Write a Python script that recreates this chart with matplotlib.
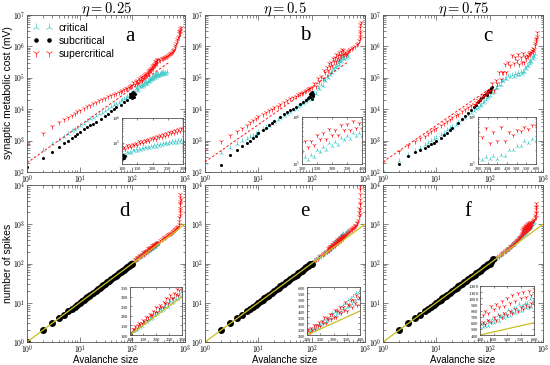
import numpy as np
import matplotlib.pyplot as plt
from matplotlib.ticker import FuncFormatter, MultipleLocator, NullFormatter, LogLocator

plt.rcParams.update({
    "mathtext.fontset": "cm",
    "font.family": ["Liberation Sans", "DejaVu Sans"],
    "axes.linewidth": 0.6,
    "axes.edgecolor": "#555555",
})

CYAN = "#3ec8c8"
RED = "#ff1010"
YELLOW = "#c8c020"

# ---------------------------------------------------------------------------
# Data: (avalanche size, value) pairs
# ---------------------------------------------------------------------------

# eta = 0.25, synaptic metabolic cost
a_crit = [(1, 250), (2, 520), (3, 800), (4, 1080), (5, 1350), (6, 1650), (7, 1950), (8, 2250), (9, 2600),
          (10, 2900), (12, 3500), (14, 4100), (16, 4700), (18, 5300), (20, 5900), (23, 6800), (26, 7700),
          (30, 8900), (35, 10300), (40, 11800), (45, 13300), (50, 14800), (55, 16300), (60, 17800),
          (65, 19300), (70, 20800), (75, 22500), (80, 24200), (85, 26000), (90, 27800), (95, 29800),
          (100, 32000), (105, 35500), (110, 33600), (115, 42900), (120, 39400), (125, 46600), (130, 41800),
          (135, 52900), (140, 49400), (145, 58300), (150, 51200), (155, 59800), (160, 53100), (165, 65900),
          (170, 59800), (175, 72800), (180, 62300), (185, 72400), (190, 63900), (195, 80300), (200, 71200),
          (205, 82900), (210, 72000), (215, 90700), (220, 79900), (225, 92700), (230, 82800), (235, 103600),
          (240, 90200), (245, 105300), (250, 90000), (255, 112700), (260, 97600), (265, 123600),
          (270, 101200), (275, 121500), (280, 103500), (285, 135100), (290, 114000), (295, 134700),
          (300, 115000), (310, 128000), (320, 118000), (330, 135000), (340, 122000), (350, 138000),
          (360, 125000), (370, 142000), (380, 130000), (390, 150000), (400, 135000), (420, 145000),
          (440, 128000), (460, 150000)]
a_sub = [(1, 145), (2, 280), (3, 430), (4, 620), (5, 830), (6, 1000), (7, 1200), (8, 1400), (9, 1650),
         (10, 1900), (12, 2300), (14, 2700), (16, 3100), (18, 3500), (20, 4000), (25, 5000), (30, 6000),
         (35, 7200), (40, 8500), (45, 10000), (50, 11500), (60, 14000), (70, 17000), (80, 20000),
         (90, 24000), (100, 28000), (92, 30000), (95, 26000), (98, 33000), (100, 23000), (102, 35000),
         (104, 27000), (106, 32000), (108, 25000), (110, 30000)]
a_sup = [(1, 800), (2, 1800), (3, 2900), (4, 3900), (5, 4800), (6, 5700), (7, 6500), (8, 7600), (9, 8500),
         (10, 9500), (12, 11000), (14, 12500), (16, 14000), (18, 15500), (20, 17000), (23, 19000),
         (26, 21000), (30, 23000), (35, 26000), (40, 29000), (45, 31500), (50, 34000), (55, 36500),
         (60, 39000), (65, 41500), (70, 44000), (75, 46500), (80, 49000), (85, 51500), (90, 54000),
         (95, 57000), (100, 60000), (105, 71500), (110, 61200), (115, 81800), (120, 69200), (125, 84000),
         (130, 71600), (135, 95300), (140, 84600), (145, 102400), (150, 87700), (155, 117200),
         (160, 98100), (165, 120400), (170, 102600), (175, 136600), (180, 121200), (185, 146900),
         (190, 125600), (195, 167900), (200, 140500), (205, 172500), (210, 147000), (215, 195800),
         (220, 173700), (225, 210300), (230, 180000), (235, 240600), (240, 201300), (245, 247200),
         (250, 210700), (255, 280400), (260, 248800), (265, 301400), (270, 257900), (275, 344800),
         (280, 288500), (285, 354200), (290, 301900), (295, 402000), (300, 356600), (320, 400000),
         (340, 380000), (360, 430000), (380, 420000), (400, 470000), (420, 450000), (440, 510000),
         (460, 490000), (480, 540000), (500, 580000), (520, 600000), (540, 630000), (560, 660000),
         (580, 700000), (600, 760000), (620, 850000), (640, 950000), (660, 1100000), (680, 1300000),
         (700, 1500000), (720, 1750000), (740, 2000000), (760, 2600000), (770, 2200000), (780, 3000000),
         (790, 2600000), (800, 3300000), (810, 3800000), (820, 3000000), (830, 4200000)]
a_fit = [(1, 195), (510, 320000)]

# eta = 0.5, synaptic metabolic cost
b_crit = [(1, 200), (2, 400), (3, 600), (4, 780), (5, 950), (6, 1100), (7, 1280), (8, 1450), (9, 1650),
          (10, 1900), (12, 2300), (14, 2650), (16, 3000), (18, 3400), (20, 3900), (23, 4500), (26, 5100),
          (30, 6000), (35, 7100), (40, 8200), (45, 9300), (50, 10500), (55, 11700), (60, 13000),
          (65, 14200), (70, 15500), (75, 16800), (80, 18000), (85, 19500), (90, 21000), (95, 23000),
          (100, 25000), (110, 31900), (120, 30600), (130, 46000), (140, 43700), (150, 57800), (160, 56300),
          (170, 82900), (180, 80800), (190, 105600), (200, 97200), (210, 138000), (220, 123700),
          (230, 153300), (240, 140800), (250, 196000), (260, 180500), (270, 225500), (280, 199800),
          (290, 276000), (300, 239900), (310, 289800), (320, 259600), (330, 352800), (340, 318300),
          (350, 390500), (360, 337500), (370, 454200), (380, 386000), (390, 456800), (400, 400400),
          (420, 480000), (440, 430000), (460, 520000), (480, 460000)]
b_sub = [(2, 170), (3, 350), (4, 500), (5, 680), (6, 840), (7, 1000), (8, 1200), (9, 1450), (10, 1700),
         (12, 2100), (14, 2600), (16, 3100), (18, 3700), (20, 4300), (25, 5500), (30, 6800), (35, 8000),
         (40, 9300), (45, 10500), (50, 12000), (60, 14500), (70, 17000), (80, 20000), (90, 24000),
         (100, 28000), (85, 22000), (92, 30000), (95, 24000), (98, 33000), (100, 21000), (102, 36000),
         (104, 26000), (106, 30000)]
b_sup = [(1, 500), (2, 1000), (3, 1500), (4, 2000), (5, 2600), (6, 3200), (7, 3800), (8, 4500), (9, 5200),
         (10, 6000), (12, 7000), (14, 8000), (16, 9200), (18, 10300), (20, 11500), (23, 13000),
         (26, 14500), (30, 16500), (35, 19000), (40, 22000), (45, 24500), (50, 27000), (55, 29500),
         (60, 32000), (65, 34000), (70, 36000), (75, 38500), (80, 41000), (85, 43500), (90, 46000),
         (95, 48000), (100, 50000), (110, 67200), (120, 55300), (130, 98800), (140, 81000), (150, 115500),
         (160, 97600), (170, 175000), (180, 152000), (190, 222000), (200, 178500), (210, 305500),
         (220, 234000), (230, 313500), (240, 248000), (250, 418800), (260, 342000), (270, 462000),
         (280, 348500), (290, 565500), (300, 414000), (310, 533500), (320, 408000), (330, 668800),
         (340, 532000), (350, 702000), (360, 518500), (370, 825500), (380, 594000), (390, 753500),
         (400, 568000), (420, 650000), (440, 560000), (460, 620000), (480, 700000), (500, 760000),
         (530, 820000), (560, 900000), (600, 950000), (650, 1050000), (700, 1150000), (740, 1300000),
         (770, 1600000), (790, 2200000), (800, 3000000), (810, 4000000), (820, 5000000), (830, 6000000),
         (800, 1800000), (815, 2600000)]
b_fit = [(1, 210), (480, 320000)]

# eta = 0.75, synaptic metabolic cost
c_crit = [(1, 115), (2, 230), (3, 350), (4, 470), (5, 590), (6, 710), (7, 830), (8, 950), (9, 1100),
          (10, 1250), (12, 1550), (14, 1800), (16, 2100), (18, 2450), (20, 2800), (23, 3200), (26, 3700),
          (30, 4500), (35, 5400), (40, 6500), (45, 7600), (50, 8700), (55, 9800), (60, 11000),
          (65, 12500), (70, 14000), (75, 15700), (80, 17500), (85, 19500), (90, 22000), (95, 24500),
          (100, 27000), (110, 33900), (120, 35700), (130, 48400), (140, 46000), (150, 59300), (160, 57600),
          (170, 77800), (180, 76800), (190, 93300), (200, 89300), (220, 115500), (240, 103000),
          (260, 122700), (280, 109800), (300, 136100), (320, 123800), (340, 138900), (360, 125000),
          (380, 149600), (400, 128800), (420, 156000), (440, 148500), (460, 199800), (480, 196800),
          (500, 243800), (520, 239700), (540, 308000), (560, 280600), (580, 343200), (600, 324000),
          (620, 421200), (640, 403200), (660, 477000), (680, 451200), (700, 561000)]
c_sub = [(2, 180), (3, 320), (4, 420), (5, 520), (6, 600), (7, 680), (8, 760), (9, 850), (10, 950),
         (12, 1200), (14, 1500), (16, 1800), (18, 2200), (20, 2600), (25, 3600), (30, 4800), (35, 6100),
         (40, 7600), (45, 9500), (50, 12000), (55, 14000), (60, 16500), (65, 19000), (70, 22000),
         (75, 25000), (80, 28000), (85, 31000), (90, 34000), (95, 38000), (100, 42000), (105, 47000),
         (110, 52000), (90, 28000), (100, 36000), (108, 44000)]
c_sup = [(1, 210), (2, 450), (3, 700), (4, 950), (5, 1200), (6, 1450), (7, 1700), (8, 2000), (9, 2300),
         (10, 2600), (12, 3200), (14, 3700), (16, 4300), (18, 4900), (20, 5600), (23, 6400), (26, 7200),
         (30, 8500), (35, 10000), (40, 11500), (45, 13200), (50, 15000), (55, 17000), (60, 19000),
         (65, 21500), (70, 24000), (75, 26500), (80, 29000), (85, 32000), (90, 35000), (95, 38500),
         (100, 42000), (110, 70000), (120, 40600), (130, 84000), (140, 68000), (150, 150000), (160, 90000),
         (170, 154000), (180, 148500), (190, 266000), (200, 154000), (220, 324000), (240, 256000),
         (260, 540000), (280, 300000), (300, 462000), (320, 378000), (340, 574000), (360, 280000),
         (380, 468000), (400, 312000), (420, 600000), (440, 315000), (460, 484000), (480, 423000),
         (500, 520000), (520, 500000), (540, 600000), (560, 560000), (580, 680000), (600, 640000),
         (620, 760000), (640, 740000), (660, 900000), (680, 850000), (700, 1100000), (720, 1300000),
         (740, 1700000), (760, 2200000), (780, 2800000), (730, 1500000), (750, 1900000)]
c_fit = [(1, 210), (110, 50000)]

# eta = 0.25, number of spikes
d_crit = [(1, 1), (2, 2), (3, 3), (4, 4), (5, 5), (6, 6), (8, 8), (10, 10), (13, 13), (16, 16), (20, 20),
          (25, 25), (30, 30), (40, 40), (50, 50), (60, 60), (70, 70), (80, 81), (90, 91), (100, 102),
          (105, 107), (110, 119), (115, 120), (120, 132), (125, 126), (130, 138), (135, 147), (140, 144),
          (145, 148), (150, 162), (155, 161), (160, 176), (165, 167), (170, 180), (175, 191), (180, 185),
          (185, 189), (190, 205), (195, 203), (200, 220), (205, 207), (210, 223), (215, 234), (220, 227),
          (225, 230), (230, 248), (235, 244), (240, 264), (245, 247), (250, 265), (255, 278), (260, 268),
          (265, 270), (270, 292), (275, 286), (280, 308), (285, 288), (290, 307), (295, 322), (300, 309)]
d_sub = [(1, 1), (2, 2), (3, 3), (4, 4), (5, 5), (6, 6), (7, 7), (8, 8), (9, 9), (10, 10), (11, 11),
         (12, 12), (13, 13), (14, 14), (15, 15), (16, 16), (18, 18), (20, 20), (22, 22), (24, 24),
         (26, 26), (28, 28), (30, 30), (33, 33), (36, 36), (40, 40), (44, 44), (48, 48), (52, 52),
         (56, 56), (60, 60), (65, 65), (70, 70), (75, 75), (80, 80), (85, 85), (90, 90), (95, 95),
         (100, 100)]
d_sup = [(1, 1), (2, 2), (3, 3), (4, 4), (5, 5), (6, 6), (8, 8), (10, 11), (13, 14), (16, 17), (20, 21),
         (25, 27), (30, 32), (40, 43), (50, 54), (60, 65), (70, 76), (80, 87), (90, 98), (100, 109),
         (105, 116), (110, 130), (115, 130), (120, 146), (125, 135), (130, 150), (135, 162), (140, 157),
         (145, 160), (150, 177), (155, 175), (160, 195), (165, 178), (170, 196), (175, 210), (180, 202),
         (185, 204), (190, 224), (195, 220), (200, 244), (205, 221), (210, 242), (215, 258), (220, 246),
         (225, 248), (230, 271), (235, 266), (240, 293), (245, 265), (250, 288), (255, 306), (260, 291),
         (265, 292), (270, 319), (275, 311), (280, 342), (285, 308), (290, 334), (295, 354), (300, 336),
         (320, 360), (340, 390), (360, 410), (380, 440), (400, 460), (420, 480), (440, 500), (460, 520),
         (480, 550), (500, 570), (520, 590), (540, 610), (560, 640), (580, 660), (600, 690), (620, 710),
         (640, 740), (660, 770), (680, 800), (700, 830), (720, 870), (740, 920), (760, 1000), (770, 1200),
         (780, 1500), (790, 2000), (800, 2600), (805, 3200), (810, 4000), (815, 5000), (820, 6000),
         (800, 1700), (810, 2300), (820, 3500), (830, 4500)]

# eta = 0.5, number of spikes
e_crit = [(1, 1), (2, 2), (3, 3), (5, 5), (8, 8), (10, 10), (15, 15), (20, 20), (30, 30), (40, 40),
          (50, 51), (60, 61), (70, 72), (80, 82), (90, 93), (100, 104), (110, 116), (120, 124), (130, 140),
          (140, 146), (150, 165), (160, 168), (170, 185), (180, 190), (190, 209), (200, 222), (205, 240),
          (210, 226), (215, 248), (220, 238), (225, 262), (230, 250), (235, 278), (240, 262), (245, 292),
          (250, 282), (255, 312), (260, 296), (265, 330), (270, 310), (275, 345), (280, 322), (285, 362),
          (290, 338), (295, 380), (300, 352), (305, 396), (310, 366), (315, 410), (320, 380), (325, 428),
          (330, 396), (335, 450), (340, 412), (345, 470), (350, 430), (355, 488), (360, 445), (365, 505),
          (370, 462), (375, 525), (380, 480), (385, 548), (390, 500), (395, 565), (400, 515), (420, 560),
          (440, 600), (460, 620), (480, 660)]
e_sub = [(2, 2), (3, 3), (4, 4), (5, 5), (6, 6), (7, 7), (8, 8), (9, 9), (10, 10), (11, 11), (12, 12),
         (13, 13), (14, 14), (15, 15), (16, 16), (18, 18), (20, 20), (22, 22), (24, 24), (26, 26),
         (28, 28), (30, 30), (33, 33), (36, 36), (40, 40), (44, 44), (48, 48), (52, 52), (56, 56),
         (60, 60), (65, 65), (70, 70), (75, 75), (80, 80), (85, 85), (90, 90), (95, 95), (100, 100)]
e_sup = [(1, 1), (2, 2), (3, 3), (5, 5), (8, 8), (10, 11), (15, 16), (20, 21), (30, 32), (40, 43),
         (50, 54), (60, 65), (70, 76), (80, 87), (90, 98), (100, 108), (110, 118), (120, 130), (130, 138),
         (140, 152), (150, 160), (160, 174), (170, 182), (180, 198), (190, 206), (200, 225), (205, 251),
         (210, 225), (215, 258), (220, 245), (225, 286), (230, 246), (235, 282), (240, 281), (245, 311),
         (250, 277), (255, 317), (260, 300), (265, 348), (270, 297), (275, 340), (280, 337), (285, 372),
         (290, 330), (295, 376), (300, 354), (305, 409), (310, 349), (315, 398), (320, 393), (325, 432),
         (330, 383), (335, 435), (340, 408), (345, 471), (350, 400), (355, 455), (360, 449), (365, 492),
         (370, 435), (375, 494), (380, 463), (385, 532), (390, 452), (395, 513), (400, 505), (420, 540),
         (440, 580), (460, 610), (480, 640), (500, 680), (520, 700), (540, 740), (560, 770), (580, 800),
         (600, 840), (620, 870), (640, 900), (660, 940), (680, 980), (700, 1050), (720, 1150),
         (740, 1300), (760, 1600), (770, 2000), (780, 2600), (790, 3500), (800, 4500), (810, 6000),
         (815, 8000), (820, 9500), (790, 1800), (800, 2400), (810, 3200)]

# eta = 0.75, number of spikes
f_crit = [(1, 1), (2, 2), (3, 3), (5, 5), (8, 8), (10, 10), (15, 15), (20, 20), (30, 30), (40, 40),
          (50, 50), (60, 60), (70, 70), (80, 80), (90, 90), (100, 100), (110, 112), (120, 124), (130, 132),
          (140, 146), (150, 155), (160, 168), (170, 178), (180, 192), (190, 200), (200, 216), (210, 226),
          (220, 240), (230, 250), (240, 266), (250, 275), (260, 292), (270, 302), (280, 320), (290, 330),
          (300, 348), (310, 360), (320, 378), (330, 392), (340, 410), (350, 425), (360, 445), (370, 462),
          (380, 482), (390, 500), (400, 530), (405, 573), (410, 523), (415, 578), (420, 555), (425, 629),
          (430, 551), (435, 616), (440, 614), (445, 662), (450, 603), (455, 665), (460, 636), (465, 720),
          (470, 630), (475, 701), (480, 698), (485, 751), (490, 683), (495, 751), (500, 718), (505, 811),
          (510, 708), (515, 787), (520, 782), (525, 840), (530, 763), (535, 838), (540, 799), (545, 901),
          (550, 786), (555, 873), (560, 866), (565, 929), (570, 843), (575, 924), (580, 881), (585, 992),
          (590, 864), (595, 958), (600, 950), (620, 1000), (640, 1050), (660, 1100), (680, 1150)]
f_sub = [(2, 2), (3, 3), (4, 4), (5, 5), (6, 6), (7, 7), (8, 8), (9, 9), (10, 10), (11, 11), (12, 12),
         (13, 13), (14, 14), (15, 15), (16, 16), (18, 18), (20, 20), (22, 22), (24, 24), (26, 26),
         (28, 28), (30, 30), (33, 33), (36, 36), (40, 40), (44, 44), (48, 48), (52, 52), (56, 56),
         (60, 60), (65, 65), (70, 70), (75, 75), (80, 80), (85, 85), (90, 90), (95, 95), (100, 100),
         (105, 112), (115, 130)]
f_sup = [(1, 1), (2, 2), (3, 3), (5, 5), (8, 8), (10, 11), (15, 16), (20, 21), (30, 32), (40, 43),
         (50, 54), (60, 65), (70, 76), (80, 87), (90, 98), (100, 108), (110, 115), (120, 128), (130, 135),
         (140, 150), (150, 158), (160, 172), (170, 180), (180, 196), (190, 205), (200, 222), (210, 230),
         (220, 246), (230, 255), (240, 272), (250, 282), (260, 300), (270, 310), (280, 330), (290, 340),
         (300, 360), (310, 372), (320, 392), (330, 405), (340, 425), (350, 440), (360, 462), (370, 478),
         (380, 500), (390, 520), (400, 560), (410, 610), (420, 580), (430, 650), (440, 620), (450, 690),
         (460, 650), (470, 720), (480, 700), (490, 760), (500, 730), (510, 790), (520, 760), (530, 830),
         (540, 800), (550, 860), (560, 830), (570, 890), (580, 860), (590, 920), (600, 900), (410, 720),
         (420, 800), (430, 760), (440, 870), (450, 820), (460, 900), (470, 850), (480, 950), (490, 880),
         (500, 1000), (510, 920), (520, 1050), (530, 960), (540, 1080), (550, 1000), (560, 1100),
         (570, 1020), (580, 1120), (590, 1050), (600, 1150), (620, 1150), (640, 1200), (660, 1300),
         (680, 1400), (700, 1500), (720, 1700), (730, 2000), (740, 2500), (745, 3000), (750, 3500),
         (730, 1500), (740, 1900), (750, 2800)]
spike_fit = [(1, 1), (1000, 1000)]

titles = [r"$\eta = 0.25$", r"$\eta = 0.5$", r"$\eta = 0.75$"]
letters = ["a", "b", "c", "d", "e", "f"]

# ---------------------------------------------------------------------------
# Layout helpers (pixel boxes of the 550x365 figure)
# ---------------------------------------------------------------------------

W, H = 550, 365


def box(x0, y0, x1, y1):
    return [x0 / W, 1 - y1 / H, (x1 - x0) / W, (y1 - y0) / H]


def xy(pairs):
    s, v = zip(*pairs)
    return list(s), list(v)


pow_fmt = FuncFormatter(lambda v, p: r"$10^{%d}$" % int(round(np.log10(v))))
int_fmt = FuncFormatter(lambda v, p: r"$%d$" % int(round(v)))


def style(ax, labelsize=5.5, major=3.5, minor=1.8, pad=1.2):
    ax.tick_params(which="both", direction="in", top=True, right=True,
                   width=0.5, color="#555555", labelsize=labelsize, pad=pad)
    ax.tick_params(which="major", length=major)
    ax.tick_params(which="minor", length=minor)


def draw(ax, crit, sub, sup, fit, top, inset=False):
    ms = 3.2 if inset else 4
    sub_ms = 2.2 if top else (3.5 if inset else 5)
    s, v = xy(crit)
    ax.plot(s, v, ls="none", marker="2", ms=ms, mew=0.5, color=CYAN, label="critical")
    if top:
        s, v = xy(sub)
        ax.plot(s, v, ls="none", marker="o", ms=sub_ms, mew=0, color="black", label="subcritical")
        s, v = xy(sup)
        ax.plot(s, v, ls="none", marker="1", ms=ms, mew=0.5, color=RED, label="supercritical")
    else:
        s, v = xy(sup)
        ax.plot(s, v, ls="none", marker="1", ms=ms, mew=0.5, color=RED)
        s, v = xy(sub)
        ax.plot(s, v, ls="none", marker="o", ms=sub_ms, mew=0, color="black")
    s, v = xy(fit)
    if top:
        if not inset:
            ax.plot(s, v, ls="--", lw=0.7, color=RED, dashes=(2.5, 2))
    else:
        ax.plot(s, v, ls="-", lw=0.9, color=YELLOW)


fig = plt.figure(figsize=(5.5, 3.65), dpi=100)

main_boxes = [box(27, 15, 185, 172), box(205, 15, 365, 172), box(383, 15, 543, 172),
              box(27, 185, 185, 342), box(205, 185, 365, 342), box(383, 185, 543, 342)]
inset_boxes = [box(122, 118, 183, 164), box(302, 117, 362, 164), box(478, 117, 536, 164),
               box(130, 287, 182, 335), box(307, 287, 360, 335), box(480, 286, 534, 335)]
letter_pos = [(0.65, 0.86), (0.625, 0.87), (0.656, 0.86), (0.62, 0.83), (0.625, 0.83), (0.53, 0.83)]
title_x = [106, 285, 463]

panels = [
    (a_crit, a_sub, a_sup, a_fit, True, (100, 300), (1.5e4, 1e6), 50),
    (b_crit, b_sub, b_sup, b_fit, True, (200, 400), (1e5, 1e6), 50),
    (c_crit, c_sub, c_sup, c_fit, True, (300, 600), (1e5, 1e6), 50),
    (d_crit, d_sub, d_sup, spike_fit, False, (100, 300), (100, 350), 50),
    (e_crit, e_sub, e_sup, spike_fit, False, (200, 400), (200, 600), 50),
    (f_crit, f_sub, f_sup, spike_fit, False, (400, 600), (400, 1200), 100),
]

for i, (crit, sub, sup, fit, top, ixl, iyl, ystep) in enumerate(panels):
    ax = fig.add_axes(main_boxes[i])
    draw(ax, crit, sub, sup, fit, top)
    ax.set_xscale("log")
    ax.set_yscale("log")
    ax.set_xlim(1, 1000)
    ax.set_ylim((100, 1e7) if top else (1, 1e4))
    ax.xaxis.set_major_formatter(pow_fmt)
    ax.yaxis.set_major_formatter(pow_fmt)
    style(ax)
    ax.text(*letter_pos[i], letters[i], transform=ax.transAxes, fontsize=15,
            family="Liberation Serif", ha="center", va="center")
    if top:
        fig.text(title_x[i] / W, 1 - 10 / H, titles[i], fontsize=10.5,
                 ha="center", va="center")
    if i == 0:
        ax.legend(loc="upper left", bbox_to_anchor=(0.0, 0.99), frameon=False, numpoints=2,
                  fontsize=7.5, markerscale=1.5, handlelength=1.8, handletextpad=0.6,
                  labelspacing=0.3, borderaxespad=0.2)

    ins = fig.add_axes(inset_boxes[i])
    ins.set_facecolor("white")
    draw(ins, crit, sub, sup, fit, top, inset=True)
    ins.set_xlim(*ixl)
    if top:
        ins.set_yscale("log")
        ins.yaxis.set_major_locator(LogLocator(base=10))
        ins.yaxis.set_major_formatter(pow_fmt)
        ins.yaxis.set_minor_formatter(NullFormatter())
    else:
        ins.yaxis.set_major_locator(MultipleLocator(ystep))
        ins.yaxis.set_major_formatter(int_fmt)
    ins.set_ylim(*iyl)
    ins.xaxis.set_major_locator(MultipleLocator(50))
    ins.xaxis.set_major_formatter(int_fmt)
    style(ins, labelsize=3.4, major=1.5, minor=0.8, pad=0.8)

fig.text(8 / W, 1 - 93 / H, "synaptic metabolic cost (mV)", rotation=90,
         ha="center", va="center", fontsize=7.5)
fig.text(8 / W, 1 - 263 / H, "number of spikes", rotation=90,
         ha="center", va="center", fontsize=7.5)
for cx in title_x:
    fig.text(cx / W, 1 - 360 / H, "Avalanche size", ha="center", va="center", fontsize=7)

fig.savefig("out.png", dpi=100)
